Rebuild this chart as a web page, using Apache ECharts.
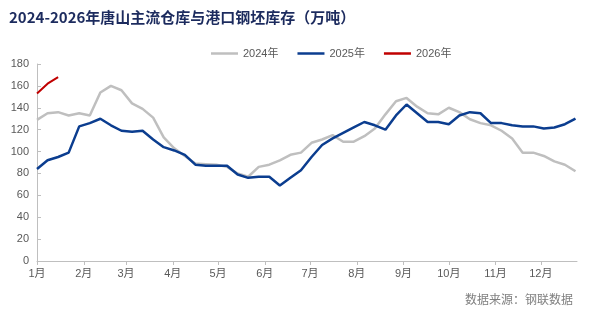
<!DOCTYPE html>
<html>
<head>
<meta charset="utf-8">
<script src="https://cdn.jsdelivr.net/npm/echarts@6/dist/echarts.min.js"></script>
<style>
  html, body { margin: 0; padding: 0; background: #ffffff; }
  #chart { width: 594px; height: 328px; }
</style>
</head>
<body>
<div id="chart"></div>
<script>
// Weekly billet inventory, Tangshan main warehouses + ports (10k tonnes)
const seriesNames = ['2024年', '2025年', '2026年'];
const monthLabels = ['1月','2月','3月','4月','5月','6月','7月','8月','9月','10月','11月','12月'];
const yTicks = [0, 20, 40, 60, 80, 100, 120, 140, 160, 180];

const values2024 = [129,135,136,133,135,133,154,160,156,144,139,131,
  113,103,96,89,88.5,88,86,80,77,86,88,92,
  97,99,108,111,115,109,109,114,121,134,146,149,
  141,135,134,140,136,129.5,126,124,119,112,99,99,
  96,91,88,82];
const values2025 = [84,92,95,99,123,126,130,124,119,118,119,111,
  104,101,97,88,87,87,87,79,76,77,77,69,
  76,83,95,106,112,117,122,127,124,120,133,143,
  135,127,127,125,133,136,135,126,126,124,123,123,
  121,122,125,130];
const values2026 = [153,162,168];

// all years share one Jan–Dec axis; weeks are laid out from Jan 1
const axisYear = 2025;
const DAY = 86400000;
const weekDates = values2024.map((_, i) => new Date(axisYear, 0, 1 + 7 * i).getTime());
const pair = vals => vals.map((v, i) => [weekDates[i], v]);

const colors = ['#bfbfbf', '#0b3d8f', '#c00000'];
const seriesValues = [values2024, values2025, values2026];

const chart = echarts.init(document.getElementById('chart'), null, { renderer: 'canvas' });
chart.setOption({
  backgroundColor: '#ffffff',
  animation: false,
  title: {
    text: '2024-2026年唐山主流仓库与港口钢坯库存（万吨）',
    left: 4,
    top: 5,
    textStyle: {
      fontFamily: 'Noto Sans CJK SC',
      fontSize: 15,
      fontWeight: 'bold',
      color: '#1c2b5e'
    }
  },
  legend: {
    left: 206,
    top: 43,
    icon: 'rect',
    itemWidth: 27,
    itemHeight: 2.5,
    itemGap: 19,
    textStyle: { fontFamily: 'Liberation Sans, Noto Sans CJK SC', fontSize: 11, color: '#595959' },
    data: seriesNames
  },
  grid: { left: 37, right: 17, top: 64, bottom: 67, containLabel: false },
  xAxis: {
    type: 'time',
    min: new Date(axisYear, 0, 1).getTime(),
    max: new Date(axisYear, 11, 25).getTime(),
    splitNumber: 12,
    minInterval: 28 * DAY,
    maxInterval: 31 * DAY,
    axisLine: { show: true, lineStyle: { color: '#bfbfbf', width: 1 } },
    axisTick: { show: true, length: 4, lineStyle: { color: '#bfbfbf' } },
    splitLine: { show: false },
    axisLabel: {
      margin: 7,
      fontFamily: 'Liberation Sans, Noto Sans CJK SC',
      fontSize: 11,
      color: '#595959',
      hideOverlap: false,
      showMinLabel: true,
      formatter: v => monthLabels[new Date(v).getMonth()]
    }
  },
  yAxis: {
    type: 'value',
    min: yTicks[0],
    max: yTicks[yTicks.length - 1],
    interval: 20,
    axisLine: { show: true, lineStyle: { color: '#bfbfbf', width: 1 } },
    axisTick: { show: true, inside: true, length: 4, lineStyle: { color: '#bfbfbf' } },
    splitLine: { show: false },
    axisLabel: {
      margin: 8,
      fontFamily: 'Liberation Sans',
      fontSize: 11,
      color: '#595959'
    }
  },
  series: seriesNames.map((name, k) => ({
    name,
    type: 'line',
    data: pair(seriesValues[k]),
    showSymbol: false,
    symbol: 'none',
    z: k === 0 ? 2 : 3 + k,
    itemStyle: { color: colors[k] },
    lineStyle: { color: colors[k], width: k === 2 ? 2 : 2.5 }
  })),
  graphic: [{
    type: 'text',
    right: 21,
    top: 293,
    style: {
      text: '数据来源：钢联数据',
      fontFamily: 'Noto Sans CJK SC',
      fontSize: 12,
      fill: '#7f7f7f'
    }
  }]
});
</script>
</body>
</html>
